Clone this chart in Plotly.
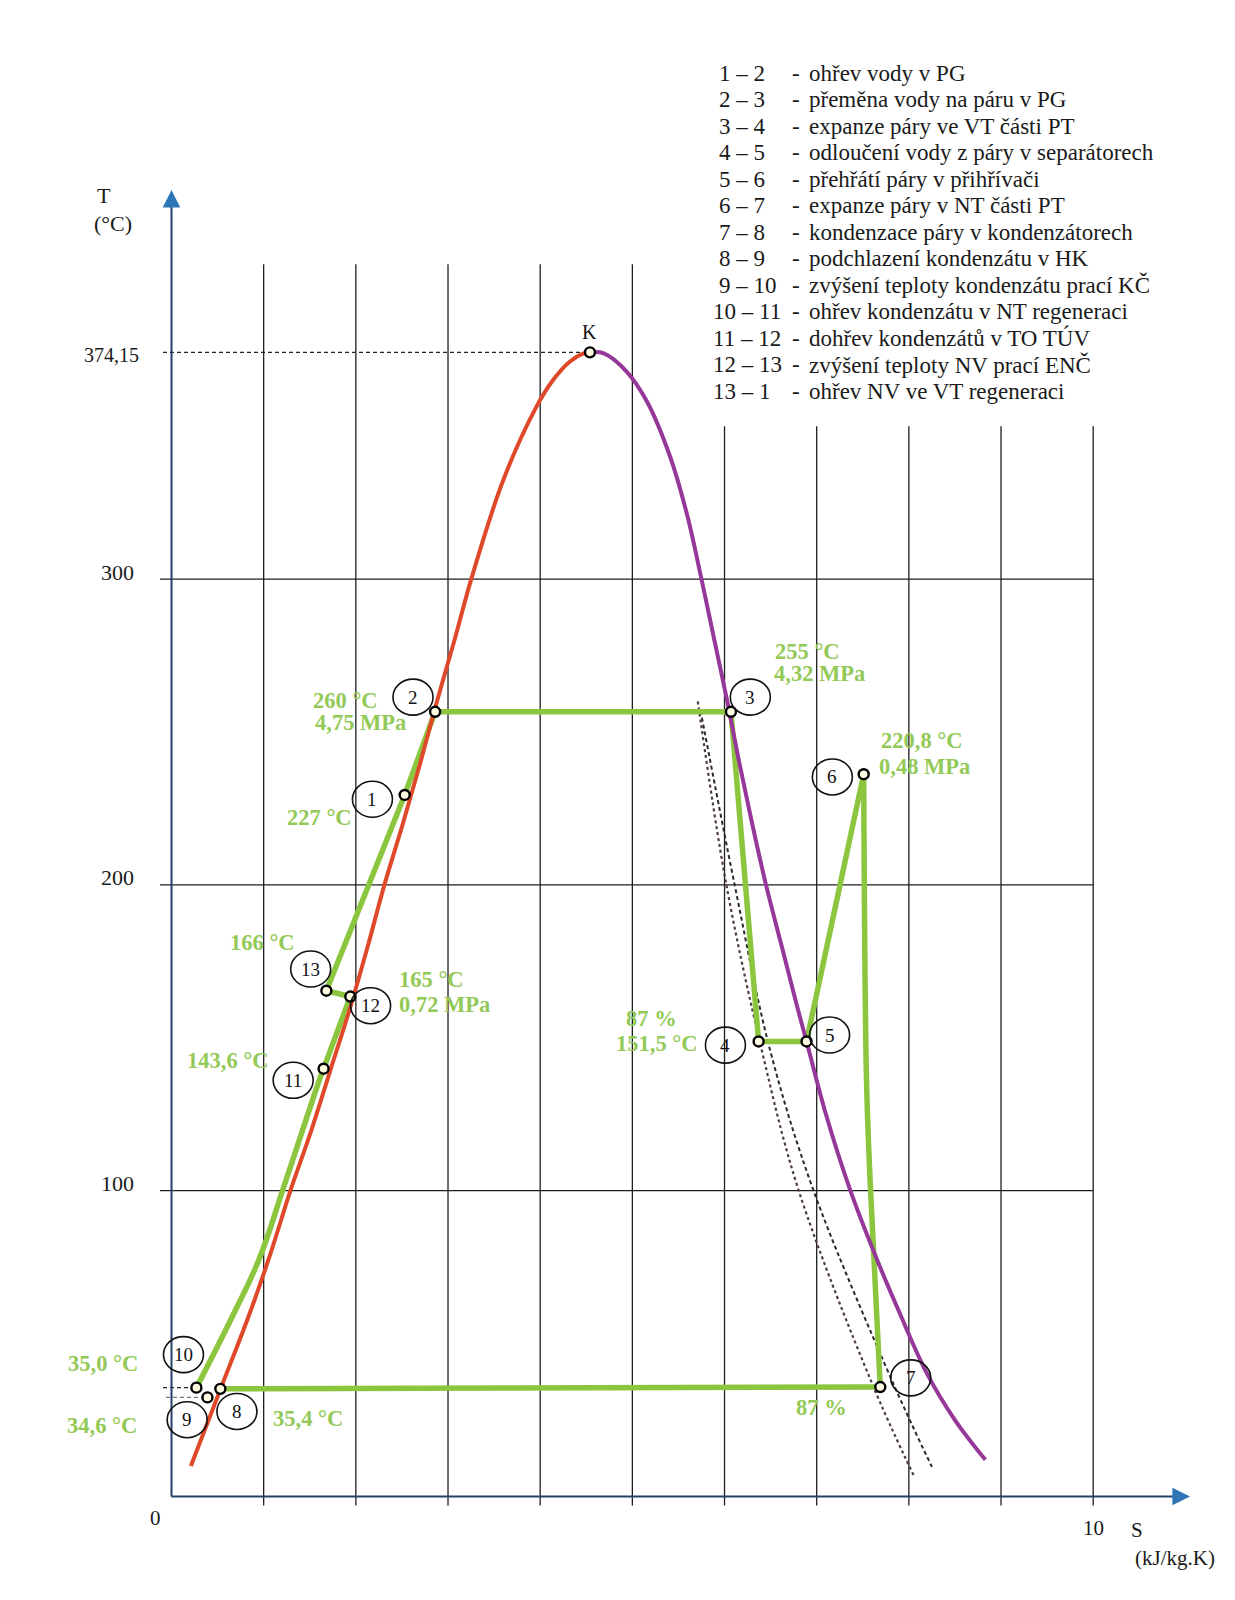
import plotly.graph_objects as go

# ---------------- data ----------------
# saturated liquid line (left boundary curve)  s [kJ/kg.K], T [°C]
sat_liq_s = [0.21, 0.53, 0.85, 1.08, 1.29, 1.52, 1.73, 1.94, 2.13, 2.31, 2.51, 2.70, 2.88,
             3.07, 3.26, 3.60, 3.96, 4.14, 4.32, 4.47, 4.54]
sat_liq_T = [10, 35, 60, 80, 100, 120, 140, 160, 180, 200, 220, 240, 260,
             280, 300.8, 332.4, 356.4, 365.1, 371.1, 373.8, 374.15]
# saturated vapour line (right boundary curve)
sat_vap_s = [4.54, 4.69, 4.94, 5.16, 5.41, 5.59, 5.75, 5.89, 6.03, 6.16, 6.30, 6.45, 6.62,
             6.79, 6.89, 7.10, 7.36, 7.62, 7.90, 8.20, 8.50, 8.83]
sat_vap_T = [374.15, 373.8, 367.8, 358.0, 340.0, 321.5, 300, 280, 260, 240, 220, 200, 180,
             160, 148.8, 125, 100.5, 80, 60, 40, 25, 12]
# cycle path, split in segments
seg_10_11_s = [0.27, 0.68, 0.95, 1.21, 1.61, 1.65]
seg_10_11_T = [35.6, 60.1, 77.6, 100.5, 136.7, 139.9]
seg_11_6_s = [1.65, 1.94, 1.68, 2.53, 2.86, 6.07, 6.37, 6.89, 7.51]
seg_11_6_T = [139.9, 163.5, 165.4, 229.4, 256.6, 256.6, 148.8, 148.8, 236.2]
seg_6_7_s = [7.51, 7.54, 7.58, 7.69]
seg_6_7_T = [236.2, 136.7, 103.0, 35.8]
seg_7_8_s = [7.69, 0.53]
seg_7_8_T = [35.8, 35.2]
# state points
point_ids = ["1", "2", "3", "4", "5", "6", "7", "8", "9", "10", "11", "12", "13"]
point_s = [2.53, 2.86, 6.07, 6.37, 6.89, 7.51, 7.69, 0.53, 0.39, 0.27, 1.65, 1.94, 1.68]
point_T = [229.4, 256.6, 256.6, 148.8, 148.8, 236.2, 35.8, 35.2, 32.4, 35.6, 139.9, 163.5, 165.4]
# circled number anchors
circle_s = [2.18, 2.62, 6.28, 6.01, 7.14, 7.17, 8.02, 0.71, 0.17, 0.13, 1.32, 2.16, 1.51]
circle_T = [228.0, 261.4, 261.4, 147.6, 150.9, 235.3, 38.8, 27.8, 25.1, 46.4, 136.1, 160.5, 172.5]
# critical point
crit_s = [4.54]
crit_T = [374.15]
# dotted expansion lines (87 %)
qa_s = [5.71, 6.02, 6.40, 6.80, 7.60, 8.05]
qa_T = [260.0, 200.0, 146.5, 100.5, 37.0, 7.0]
qb_s = [5.74, 6.11, 6.49, 6.96, 7.83, 8.25]
qb_T = [257.0, 200.0, 146.5, 100.5, 37.0, 9.7]
# axis ticks
grid_s = [1, 2, 3, 4, 5, 6, 7, 8, 9, 10]
grid_top = [403, 403, 403, 403, 403, 350, 350, 350, 350, 350]
grid_T = [100, 200, 300]
ytick_labels = ["100", "200", "300"]
# green value labels
val_texts = ["260 °C", "4,75 MPa", "227 °C", "166 °C", "165 °C", "0,72 MPa", "143,6 °C",
             "255 °C", "4,32 MPa", "220,8 °C", "0,48 MPa", "87 %", "151,5 °C",
             "35,0 °C", "34,6 °C", "35,4 °C", "87 %"]
# legend
legend_nums = ["1 – 2", "2 – 3", "3 – 4", "4 – 5", "5 – 6", "6 – 7", "7 – 8", "8 – 9",
               "9 – 10", "10 – 11", "11 – 12", "12 – 13", "13 – 1"]
legend_desc = ["ohřev vody v PG", "přeměna vody na páru v PG", "expanze páry ve VT části PT",
               "odloučení vody z páry v separátorech", "přehřátí páry v přihřívači",
               "expanze páry v NT části PT", "kondenzace páry v kondenzátorech",
               "podchlazení kondenzátu v HK", "zvýšení teploty kondenzátu prací KČ",
               "ohřev kondenzátu v NT regeneraci", "dohřev kondenzátů v TO TÚV",
               "zvýšení teploty NV prací ENČ", "ohřev NV ve VT regeneraci"]

# ---------------- geometry helpers (page pixels -> axis units) ----------------
W, H = 1235, 1600
X0, KX = 171.5, 92.17
Y0, KY = 1496.5, 3.058


def sx(px):
    return (px - X0) / KX


def ty(py):
    return (Y0 - py) / KY


SERIF = "Liberation Serif, Times New Roman, serif"
GREEN = "#8cc63f"
GREEN_TXT = "#93c957"
RED = "#e0482a"
PURPLE = "#96379a"
AXIS = "#24416b"
ARROW = "#2e75b6"

fig = go.Figure()

# dotted expansion lines
fig.add_trace(go.Scatter(x=qa_s, y=qa_T, mode="lines", line_shape="spline",
                         line=dict(color="#4e3a46", width=2.2, dash="dot"), hoverinfo="skip"))
fig.add_trace(go.Scatter(x=qb_s, y=qb_T, mode="lines", line_shape="spline",
                         line=dict(color="#2a2a2a", width=2.0, dash="4px,3px"), hoverinfo="skip"))
# cycle segments
fig.add_trace(go.Scatter(x=seg_10_11_s, y=seg_10_11_T, mode="lines", line_shape="spline",
                         line=dict(color=GREEN, width=5.5, smoothing=1.3), hoverinfo="skip"))
fig.add_trace(go.Scatter(x=seg_11_6_s, y=seg_11_6_T, mode="lines",
                         line=dict(color=GREEN, width=5.5), hoverinfo="skip"))
fig.add_trace(go.Scatter(x=seg_6_7_s, y=seg_6_7_T, mode="lines", line_shape="spline",
                         line=dict(color=GREEN, width=5.5, smoothing=1.0), hoverinfo="skip"))
fig.add_trace(go.Scatter(x=seg_7_8_s, y=seg_7_8_T, mode="lines",
                         line=dict(color=GREEN, width=5.5), hoverinfo="skip"))
# saturation curves
fig.add_trace(go.Scatter(x=sat_liq_s, y=sat_liq_T, mode="lines", line_shape="spline",
                         line=dict(color=RED, width=4, smoothing=1.0), hoverinfo="skip"))
fig.add_trace(go.Scatter(x=sat_vap_s, y=sat_vap_T, mode="lines", line_shape="spline",
                         line=dict(color=PURPLE, width=4, smoothing=1.0), hoverinfo="skip"))
# state point markers
fig.add_trace(go.Scatter(x=point_s + crit_s, y=point_T + crit_T, mode="markers",
                         marker=dict(size=10, color="#fffbe3", line=dict(color="black", width=2.4)),
                         hoverinfo="skip"))

shapes = []
# vertical grid lines (extending slightly below the axis as ticks)
for s, top in zip(grid_s, grid_top):
    shapes.append(dict(type="line", x0=s, x1=s, y0=ty(Y0 + 9), y1=top, layer="below",
                       line=dict(color="#1e1e1e", width=1.3)))
# horizontal grid lines
for t in grid_T:
    shapes.append(dict(type="line", x0=sx(160), x1=10, y0=t, y1=t, layer="below",
                       line=dict(color="#1e1e1e", width=1.3)))
# dashed line to critical point
shapes.append(dict(type="line", x0=sx(163), x1=crit_s[0], y0=crit_T[0], y1=crit_T[0],
                   layer="below", line=dict(color="#222", width=1.3, dash="4px,3px")))
# dashed helper lines for points 10 and 9
shapes.append(dict(type="line", x0=sx(163), x1=point_s[9], y0=point_T[9], y1=point_T[9],
                   layer="below", line=dict(color="#222", width=1.2, dash="4px,3px")))
shapes.append(dict(type="line", x0=sx(166), x1=point_s[8], y0=point_T[8], y1=point_T[8],
                   layer="below", line=dict(color="#777", width=1.2, dash="4px,3px")))
# axes
shapes.append(dict(type="line", x0=0, x1=0, y0=0, y1=ty(205), layer="above",
                   line=dict(color=AXIS, width=2)))
shapes.append(dict(type="line", x0=0, x1=sx(1175), y0=0, y1=0, layer="above",
                   line=dict(color=AXIS, width=2)))
# circled numbers
for s, t in zip(circle_s, circle_T):
    shapes.append(dict(type="circle", xref="x", yref="y", xsizemode="pixel", ysizemode="pixel",
                       xanchor=s, yanchor=t, x0=-20, x1=20, y0=-18, y1=18, layer="above",
                       line=dict(color="#111", width=1.6), fillcolor="rgba(0,0,0,0)"))

ann = []
# arrow heads
ann.append(dict(x=0, y=ty(190), ax=0, ay=20, xref="x", yref="y", text="", showarrow=True,
                arrowhead=2, arrowsize=1.6, arrowwidth=2.2, arrowcolor=ARROW))
ann.append(dict(x=sx(1190), y=0, ax=-20, ay=0, xref="x", yref="y", text="", showarrow=True,
                arrowhead=2, arrowsize=1.6, arrowwidth=2.2, arrowcolor=ARROW))

# circled number texts
for lab, s, t in zip(point_ids, circle_s, circle_T):
    ann.append(dict(x=s, y=t, text=lab, showarrow=False, xanchor="center", yanchor="middle",
                    font=dict(family=SERIF, size=19, color="#111")))
ann.append(dict(x=crit_s[0], y=ty(332), text="K", showarrow=False, xanchor="center",
                yanchor="middle", font=dict(family=SERIF, size=20, color="#111")))

# green value labels: (page x, page y, anchor)
val_pos = [(311, 700, "left"), (313, 722, "left"), (285, 817, "left"), (228, 942, "left"),
           (397, 979, "left"), (397, 1004, "left"), (185, 1060, "left"),
           (773, 651, "left"), (772, 673, "left"), (879, 740, "left"), (877, 766, "left"),
           (651, 1018, "center"), (614, 1043, "left"),
           (66, 1363, "left"), (65, 1425, "left"), (271, 1418, "left"), (821, 1407, "center")]
for txt, (px, py, anc) in zip(val_texts, val_pos):
    ann.append(dict(x=sx(px), y=ty(py), text="<b>" + txt + "</b>", showarrow=False,
                    xanchor=anc, yanchor="middle",
                    font=dict(family=SERIF, size=22.5, color=GREEN_TXT)))

# axis labels
TXT = dict(family=SERIF, size=22, color="#1a1a1a")
TXT2 = dict(family=SERIF, size=21, color="#1a1a1a")
for t, lab in zip(grid_T, ytick_labels):
    ann.append(dict(x=sx(117), y=t, yshift=7, text=lab, showarrow=False, xanchor="center",
                    yanchor="middle", font=TXT))
ann.append(dict(x=sx(141), y=crit_T[0], yshift=-3, text="374,15", showarrow=False,
                xanchor="right", yanchor="middle", font=dict(family=SERIF, size=20, color="#1a1a1a")))
ann.append(dict(x=sx(104), y=ty(195), text="T", showarrow=False, xanchor="center",
                yanchor="middle", font=TXT))
ann.append(dict(x=sx(113), y=ty(223), text="(°C)", showarrow=False, xanchor="center",
                yanchor="middle", font=TXT))
ann.append(dict(x=sx(155), y=ty(1518), text="0", showarrow=False, xanchor="center",
                yanchor="middle", font=TXT2))
ann.append(dict(x=10, y=ty(1528), text="10", showarrow=False, xanchor="center",
                yanchor="middle", font=TXT2))
ann.append(dict(x=sx(1137), y=ty(1530), text="S", showarrow=False, xanchor="center",
                yanchor="middle", font=TXT2))
ann.append(dict(x=sx(1175), y=ty(1558), text="(kJ/kg.K)", showarrow=False, xanchor="center",
                yanchor="middle", font=TXT2))

# legend block
LEG = dict(family=SERIF, size=23, color="#1a1a1a")
for i, (num, desc) in enumerate(zip(legend_nums, legend_desc)):
    py = 73.3 + i * 26.5
    nx = 711 if len(num.split(" ")[0]) > 1 else 717
    ann.append(dict(x=sx(nx), y=ty(py), text=num, showarrow=False, xanchor="left",
                    yanchor="middle", font=LEG))
    ann.append(dict(x=sx(790), y=ty(py), text="-", showarrow=False, xanchor="left",
                    yanchor="middle", font=LEG))
    ann.append(dict(x=sx(807), y=ty(py), text=desc, showarrow=False, xanchor="left",
                    yanchor="middle", font=LEG))

fig.update_layout(
    width=W, height=H, margin=dict(l=0, r=0, t=0, b=0, pad=0),
    paper_bgcolor="white", plot_bgcolor="white", showlegend=False,
    xaxis=dict(visible=False, range=[sx(0), sx(W)], fixedrange=True),
    yaxis=dict(visible=False, range=[ty(H), ty(0)], fixedrange=True),
    shapes=shapes, annotations=ann,
)

fig.write_html("out.html", config={"displayModeBar": False},
               post_script="document.body.style.margin='0px';")
